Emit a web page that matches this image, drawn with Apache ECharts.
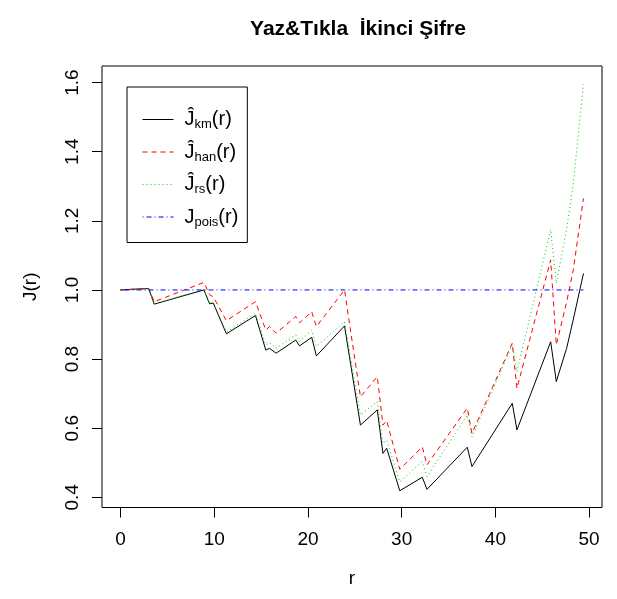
<!DOCTYPE html>
<html>
<head>
<meta charset="utf-8">
<script src="https://cdn.jsdelivr.net/npm/echarts@6/dist/echarts.min.js"></script>
<style>
html,body{margin:0;padding:0;background:#fff;}
#chart{width:617px;height:599px;}
</style>
</head>
<body>
<div id="chart"></div>
<script>
const chartTitle = 'Yaz&Tıkla  İkinci Şifre';
const xName = 'r';
const yName = 'J(r)';
const r      = [0, 2.0, 3.0, 3.6, 8.9, 9.5, 9.9, 11.3, 14.4, 15.5, 15.9, 16.6, 18.7, 19.1, 20.4, 20.9, 23.9, 25.6, 27.4, 28.0, 28.4, 29.8, 32.2, 32.7, 37.0, 37.5, 41.8, 42.3, 45.9, 46.5, 47.6, 48.3, 49.4];
const jKm    = [1.000, 1.003, 1.004, 0.959, 1.000, 0.960, 0.962, 0.873, 0.926, 0.826, 0.831, 0.817, 0.855, 0.838, 0.863, 0.809, 0.896, 0.609, 0.653, 0.527, 0.542, 0.419, 0.458, 0.423, 0.545, 0.489, 0.672, 0.595, 0.850, 0.735, 0.831, 0.913, 1.048];
const jHan   = [1.000, 1.003, 1.004, 0.966, 1.022, 0.986, 0.980, 0.911, 0.966, 0.884, 0.894, 0.875, 0.923, 0.905, 0.937, 0.894, 1.000, 0.691, 0.749, 0.609, 0.622, 0.481, 0.546, 0.494, 0.658, 0.585, 0.846, 0.715, 1.087, 0.841, 0.965, 1.056, 1.265];
const jRs    = [1.000, 1.003, 1.004, 0.960, 1.002, 0.962, 0.964, 0.878, 0.932, 0.841, 0.848, 0.831, 0.870, 0.850, 0.884, 0.836, 0.908, 0.638, 0.677, 0.556, 0.566, 0.445, 0.503, 0.460, 0.638, 0.575, 0.841, 0.764, 1.174, 1.019, 1.175, 1.305, 1.595];
const jPois  = r.map(() => 1.0);
const xTicks = [0, 10, 20, 30, 40, 50];
const yTicks = [0.4, 0.6, 0.8, 1.0, 1.2, 1.4, 1.6];
const seriesNames = ['km', 'han', 'rs', 'pois'];
const legendLabels = {
  km:   '{j|Ĵ}{s|km}{p|(r)}',
  han:  '{j|Ĵ}{s|han}{p|(r)}',
  rs:   '{j|Ĵ}{s|rs}{p|(r)}',
  pois: '{j|J}{s|pois}{p|(r)}'
};

const font = 'Liberation Sans, Arial, sans-serif';
const pairs = (ys) => r.map((x, i) => [x, ys[i]]);

const chart = echarts.init(document.getElementById('chart'), null, {renderer: 'canvas'});
chart.setOption({
  animation: false,
  backgroundColor: '#fff',
  title: {
    text: chartTitle, left: 353, top: 14, textAlign: 'center',
    textStyle: {fontFamily: font, fontSize: 21, fontWeight: 'bold', color: '#000'}
  },
  grid: {left: 102, right: 15, top: 66, bottom: 91.5, show: true, borderColor: '#000', borderWidth: 1, backgroundColor: 'transparent'},
  legend: {
    orient: 'vertical', left: 127, top: 87,
    padding: [21, 9, 14, 15],
    itemWidth: 31, itemHeight: 14, itemGap: 9.5,
    borderColor: '#000', borderWidth: 1, borderRadius: 0, backgroundColor: '#fff',
    itemStyle: {opacity: 0},
    lineStyle: {width: 1},
    data: seriesNames,
    formatter: (name) => legendLabels[name],
    textStyle: {
      fontFamily: font, color: '#000',
      rich: {
        j: {fontFamily: font, fontSize: 20, lineHeight: 24, padding: [0, 0, 0, 6], color: '#000'},
        s: {fontFamily: font, fontSize: 13, lineHeight: 24, padding: [10, 0, 0, 0], color: '#000'},
        p: {fontFamily: font, fontSize: 20, lineHeight: 24, color: '#000'}
      }
    }
  },
  xAxis: {
    type: 'value', min: -1.976, max: 51.376,
    axisLine: {show: false, onZero: false}, splitLine: {show: false},
    axisTick: {show: true, inside: false, length: 10, customValues: xTicks, lineStyle: {color: '#000', width: 1}},
    axisLabel: {customValues: xTicks, fontFamily: font, fontSize: 19, color: '#000', margin: 23},
    name: xName, nameLocation: 'middle', nameGap: 62,
    nameTextStyle: {fontFamily: font, fontSize: 19, color: '#000'}
  },
  yAxis: {
    type: 'value', min: 0.3705, max: 1.648,
    axisLine: {show: false, onZero: false}, splitLine: {show: false},
    axisTick: {show: true, inside: false, length: 10, customValues: yTicks, lineStyle: {color: '#000', width: 1}},
    axisLabel: {customValues: yTicks, rotate: 90, fontFamily: font, fontSize: 19, color: '#000', margin: 20,
      formatter: (v) => v.toFixed(1)},
    name: yName, nameLocation: 'middle', nameGap: 62, nameRotate: 90,
    nameTextStyle: {fontFamily: font, fontSize: 19, color: '#000'}
  },
  series: [
    {name: 'km', type: 'line', data: pairs(jKm), symbol: 'none', color: '#000000',
      lineStyle: {color: '#000000', width: 1, type: 'solid'}},
    {name: 'han', type: 'line', data: pairs(jHan), symbol: 'none', color: '#FF0000',
      lineStyle: {color: '#FF0000', width: 1, type: [5, 4]}},
    {name: 'rs', type: 'line', data: pairs(jRs), symbol: 'none', color: '#00CD00',
      lineStyle: {color: '#00CD00', width: 1, type: [1, 3]}},
    {name: 'pois', type: 'line', data: pairs(jPois), symbol: 'none', color: '#0000FF',
      lineStyle: {color: '#0000FF', width: 1, type: [1, 3, 5, 3]}}
  ]
});
</script>
</body>
</html>
